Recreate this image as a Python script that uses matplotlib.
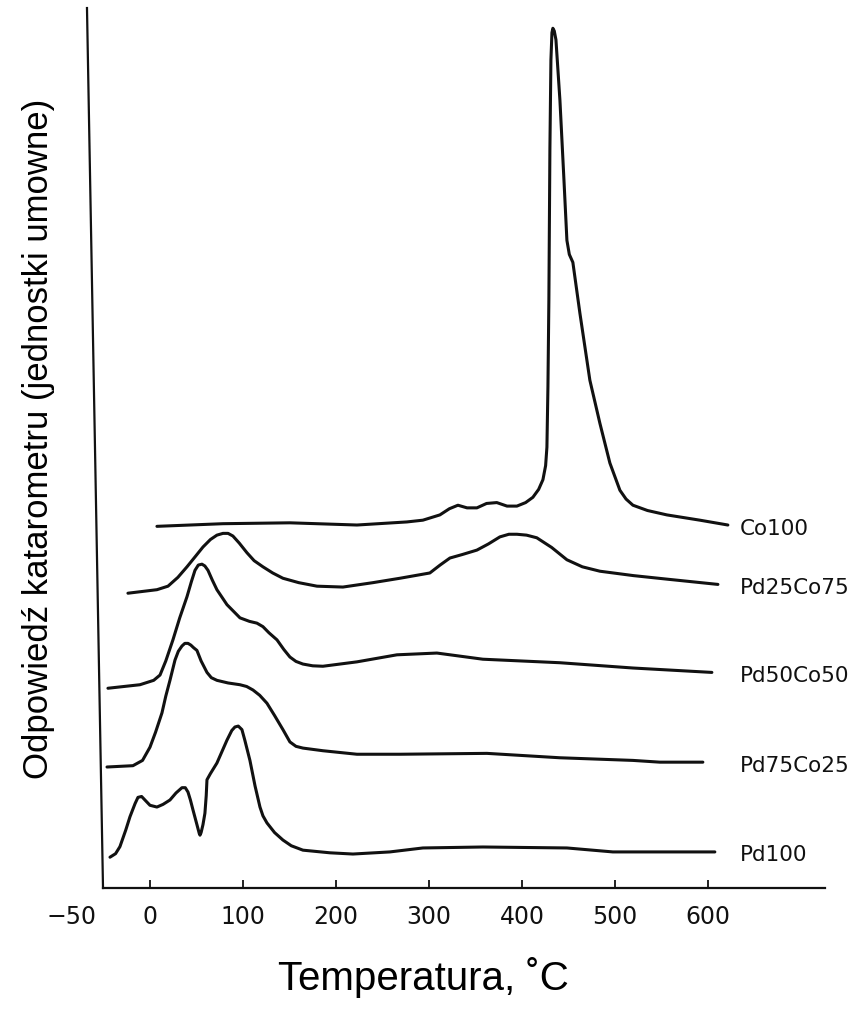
import matplotlib.pyplot as plt
from matplotlib.lines import Line2D

# TPR profiles, temperature in deg C, detector signal in arbitrary units
t_co100 = [7.5, 78.5, 150.5, 222.6, 276.3, 293.5, 311.8, 322.0, 331.2, 341.0, 351.6,
           362.0, 373.0, 384.0, 394.6, 404.0, 411.8, 418.0, 422.6, 425.5, 426.9, 428.0,
           429.0, 430.1, 431.2, 432.3, 433.3, 434.8, 436.6, 440.9, 445.2, 448.4, 451.0,
           454.8, 462.4, 473.1, 483.9, 494.6, 505.4, 512.0, 519.4, 535.0, 555.9, 591.4,
           621.5]
s_co100 = [41.1, 41.4, 41.5, 41.25, 41.6, 41.8, 42.4, 43.1, 43.5, 43.2, 43.2,
           43.7, 43.8, 43.4, 43.4, 43.8, 44.4, 45.3, 46.4, 48.0, 50.1, 57.0,
           66.8, 83.9, 94.1, 97.2, 97.7, 97.4, 96.4, 89.5, 80.5, 73.6, 72.0,
           71.1, 65.3, 57.7, 52.8, 48.3, 45.2, 44.2, 43.5, 42.9, 42.4, 41.8,
           41.25]

t_pd25 = [-23.7, 7.5, 19.4, 30.0, 39.8, 49.0, 57.0, 65.0, 72.0, 78.5, 84.0, 89.2,
          96.0, 104.3, 112.0, 121.5, 132.0, 143.0, 160.0, 179.6, 207.5, 239.8, 268.8,
          301.0, 312.0, 322.6, 336.0, 351.6, 364.0, 376.3, 386.0, 394.6, 405.0, 416.0,
          432.0, 448.4, 465.0, 483.9, 520.0, 555.9, 610.8]
s_pd25 = [33.5, 33.9, 34.3, 35.3, 36.5, 37.7, 38.75, 39.6, 40.1, 40.3, 40.3, 40.0,
          39.2, 38.1, 37.2, 36.5, 35.8, 35.2, 34.7, 34.3, 34.2, 34.7, 35.2,
          35.8, 36.7, 37.5, 37.9, 38.4, 39.1, 39.9, 40.2, 40.2, 40.1, 39.8,
          38.7, 37.3, 36.5, 36.0, 35.5, 35.1, 34.5]

t_pd50 = [-45.2, -10.8, 4.0, 10.8, 17.0, 24.7, 32.0, 39.8, 44.5, 48.4, 52.0, 55.9,
          59.0, 62.4, 67.0, 72.0, 82.8, 96.8, 107.0, 115.0, 121.5, 128.0, 136.6, 144.0,
          150.5, 157.0, 164.5, 175.0, 186.0, 222.6, 265.6, 308.6, 358.0, 440.9, 519.4,
          604.3]
s_pd50 = [22.7, 23.1, 23.6, 24.2, 25.8, 28.2, 30.7, 33.1, 34.8, 36.1, 36.7, 36.8,
          36.6, 36.1, 35.0, 33.9, 32.2, 30.7, 30.3, 30.1, 29.7, 29.0, 28.2, 27.1,
          26.25, 25.75, 25.45, 25.25, 25.2, 25.7, 26.5, 26.7, 26.0, 25.6, 25.0,
          24.5]

t_pd75 = [-46.2, -18.3, -8.0, 0.0, 6.0, 12.9, 17.0, 21.5, 26.9, 30.5, 34.4, 37.5,
          40.9, 44.0, 47.0, 50.5, 55.0, 61.3, 66.0, 72.0, 84.0, 96.8, 104.0, 110.8,
          118.0, 125.8, 134.0, 143.0, 150.5, 157.0, 164.5, 186.0, 222.6, 268.8, 362.4,
          440.9, 519.4, 548.4, 594.6]
s_pd75 = [13.75, 13.9, 14.5, 16.0, 17.7, 19.9, 21.8, 23.6, 25.9, 26.9, 27.5, 27.8,
          27.8, 27.6, 27.3, 27.0, 25.8, 24.5, 23.9, 23.6, 23.3, 23.1, 22.9, 22.5,
          21.9, 21.0, 19.6, 18.0, 16.6, 16.1, 15.9, 15.6, 15.2, 15.2, 15.3,
          14.8, 14.5, 14.3, 14.3]

t_pd100 = [-43.0, -37.0, -32.3, -26.0, -21.5, -16.0, -12.9, -9.0, -5.4, 0.0, 7.5, 14.0,
           21.5, 28.0, 34.4, 38.0, 40.9, 43.5, 46.2, 50.5, 53.0, 53.8, 55.0, 57.0,
           59.1, 60.5, 61.3, 65.0, 72.0, 82.8, 88.0, 91.4, 95.0, 98.9, 102.0, 107.5,
           113.0, 118.3, 121.5, 125.8, 134.0, 143.0, 152.0, 164.5, 193.5, 218.3, 258.0,
           293.5, 358.0, 448.4, 497.8, 607.5]
s_pd100 = [3.5, 3.9, 4.7, 6.6, 8.1, 9.6, 10.3, 10.4, 10.0, 9.4, 9.2, 9.5,
           10.0, 10.8, 11.4, 11.4, 10.9, 10.0, 8.9, 7.2, 6.2, 6.0, 6.3, 7.2,
           8.5, 10.5, 12.3, 13.0, 14.2, 16.8, 17.9, 18.3, 18.4, 18.0, 16.8, 14.5,
           11.6, 9.2, 8.2, 7.4, 6.3, 5.45, 4.8, 4.3, 4.0, 3.86, 4.1,
           4.55, 4.66, 4.55, 4.1, 4.1]

curves = [
    ("Co100", t_co100, s_co100),
    ("Pd25Co75", t_pd25, s_pd25),
    ("Pd50Co50", t_pd50, s_pd50),
    ("Pd75Co25", t_pd75, s_pd75),
    ("Pd100", t_pd100, s_pd100),
]

tick_values = [0, 100, 200, 300, 400, 500, 600]

ink = "#111111"
label_font = ["Liberation Sans", "DejaVu Sans"]

fig = plt.figure(figsize=(8.57, 10.31), dpi=100)
ax = fig.add_axes([0.1202, 0.1387, 0.8425, 0.8535])

for name, t, s in curves:
    ax.plot(t, s, color=ink, lw=2.2, solid_joinstyle="round", solid_capstyle="round")
    # sample name just right of the trace end
    ax.text(634, s[-1] - 0.4, name, fontsize=15.5, color=ink,
            ha="left", va="center", family="DejaVu Sans")

ax.set_xlim(-50.5, 726)
ax.set_ylim(0, 100)

for side in ["top", "right", "left"]:
    ax.spines[side].set_visible(False)
ax.spines["bottom"].set_linewidth(1.6)
ax.spines["bottom"].set_color(ink)

# slightly leaning vertical axis
ax.add_line(Line2D([0, -0.0222], [0, 1.0], transform=ax.transAxes,
                   color=ink, lw=1.6, clip_on=False))

ax.set_yticks([])
ax.set_xticks(tick_values)
ax.set_xticklabels([str(v) for v in tick_values], family="DejaVu Sans", fontsize=17)
ax.tick_params(axis="x", direction="in", length=6, width=1.3, color=ink,
               pad=12, labelcolor=ink)
ax.annotate("\u221250", xy=(-58, 0), xytext=(0, -12), textcoords="offset points",
            fontsize=17, family="DejaVu Sans", color=ink, ha="right", va="top",
            annotation_clip=False)

ax.set_xlabel("Temperatura, \u02daC", fontsize=29, family=label_font)
ax.xaxis.set_label_coords(0.444, -0.078)
ax.set_ylabel("Odpowiedź katarometru (jednostki umowne)", fontsize=25,
              family=label_font)
ax.yaxis.set_label_coords(-0.066, 0.51)

fig.savefig("out.png", dpi=100)
